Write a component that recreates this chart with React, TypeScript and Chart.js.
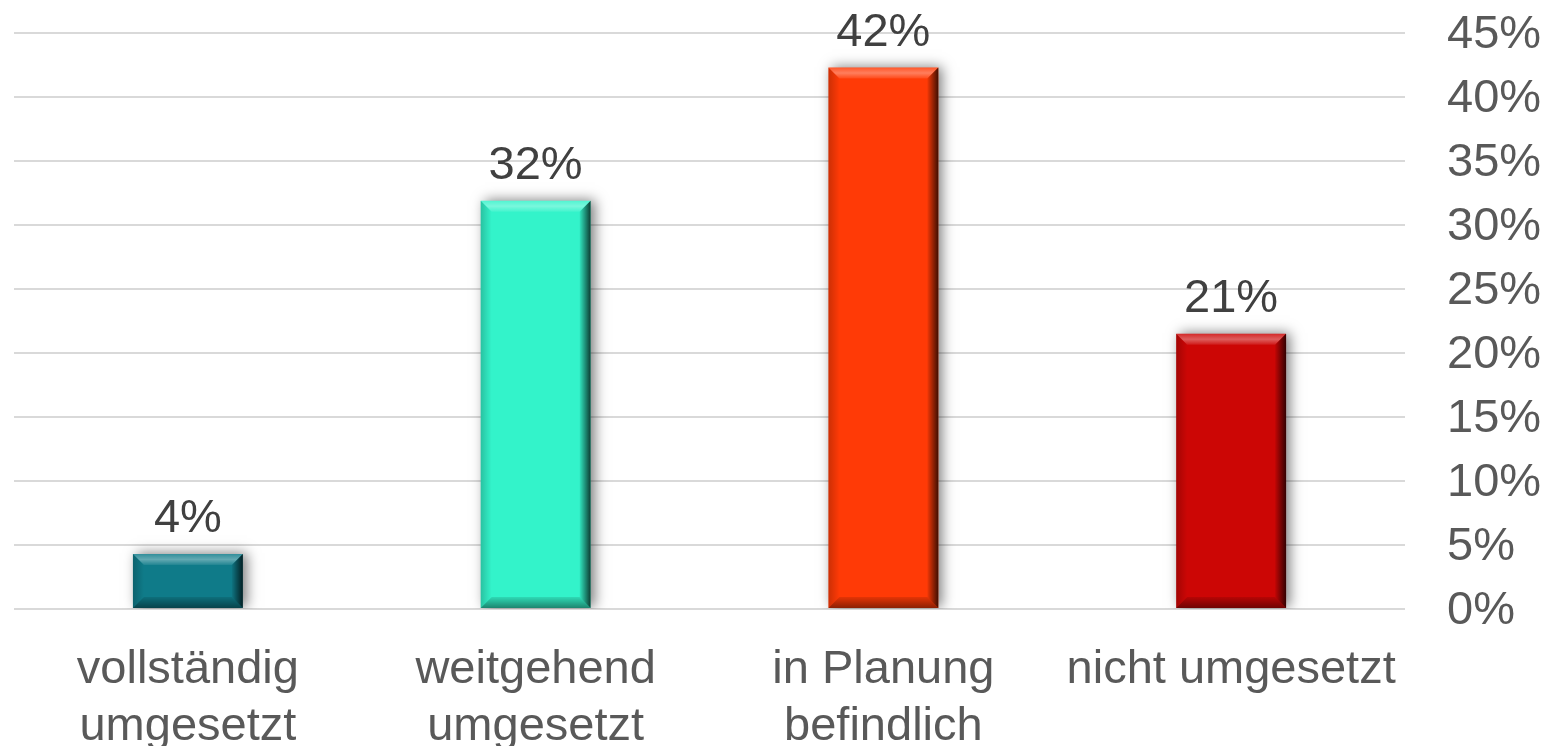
import React, { useEffect, useRef } from "react";
import { Chart, registerables } from "chart.js";

Chart.register(...registerables);

const categories: string[][] = [
  ["vollständig", "umgesetzt"],
  ["weitgehend", "umgesetzt"],
  ["in Planung", "befindlich"],
  ["nicht umgesetzt"],
];
const values: number[] = [4.3, 31.9, 42.3, 21.5];
const valueLabels: string[] = ["4%", "32%", "42%", "21%"];
const barColors: string[] = ["#0F7B89", "#33F3CA", "#FF3A06", "#CC0605"];
const yTicks = { min: 0, max: 45, step: 5 };

const FONT = '"Liberation Sans", Arial, sans-serif';

const shadowPlugin = {
  id: "barShadow",
  beforeDatasetsDraw(chart: any) {
    const ctx = chart.ctx;
    ctx.save();
    ctx.shadowColor = "rgba(0,0,0,0.5)";
    ctx.shadowBlur = 12;
    ctx.shadowOffsetX = 4;
    ctx.shadowOffsetY = -1;
  },
  afterDatasetsDraw(chart: any) {
    const ctx = chart.ctx;
    ctx.restore();
    const meta = chart.getDatasetMeta(0);
    meta.data.forEach((el: any, i: number) => {
      const { x, y, base, width } = el.getProps(["x", "y", "base", "width"], true);
      const L = x - width / 2;
      const R = x + width / 2;
      const T = Math.min(y, base);
      const B = Math.max(y, base);
      const b = Math.min(11, (B - T) / 2);
      const poly = (pts: number[][], fill: any) => {
        ctx.beginPath();
        ctx.moveTo(pts[0][0], pts[0][1]);
        for (let k = 1; k < pts.length; k++) ctx.lineTo(pts[k][0], pts[k][1]);
        ctx.closePath();
        ctx.fillStyle = fill;
        ctx.fill();
      };
      ctx.save();
      let g = ctx.createLinearGradient(0, T, 0, T + b);
      g.addColorStop(0, "rgba(255,255,255,0.15)");
      g.addColorStop(0.5, "rgba(255,255,255,0.35)");
      g.addColorStop(1, "rgba(255,255,255,0.08)");
      poly([[L, T], [R, T], [R - b, T + b], [L + b, T + b]], g);
      g = ctx.createLinearGradient(L, 0, L + b, 0);
      g.addColorStop(0, "rgba(0,0,0,0.2)");
      g.addColorStop(1, "rgba(0,0,0,0)");
      poly([[L, T], [L + b, T + b], [L + b, B - b], [L, B]], g);
      g = ctx.createLinearGradient(R - b, 0, R, 0);
      g.addColorStop(0, "rgba(0,0,0,0.05)");
      g.addColorStop(1, "rgba(0,0,0,0.75)");
      poly([[R, T], [R, B], [R - b, B - b], [R - b, T + b]], g);
      g = ctx.createLinearGradient(0, B - b, 0, B);
      g.addColorStop(0, "rgba(0,0,0,0.1)");
      g.addColorStop(1, "rgba(0,0,0,0.45)");
      poly([[L, B], [R, B], [R - b, B - b], [L + b, B - b]], g);
      ctx.restore();

      ctx.save();
      ctx.font = `47px ${FONT}`;
      ctx.fillStyle = "#404040";
      ctx.textAlign = "center";
      ctx.textBaseline = "alphabetic";
      ctx.fillText(valueLabels[i], x, T - 22);
      ctx.restore();
    });
  },
};

export default function App() {
  const ref = useRef<HTMLCanvasElement | null>(null);
  useEffect(() => {
    if (!ref.current) return;
    const chart = new Chart(ref.current, {
      type: "bar",
      data: {
        labels: categories,
        datasets: [
          {
            data: values,
            backgroundColor: barColors,
            borderWidth: 0,
            barPercentage: 0.316,
            categoryPercentage: 1,
          },
        ],
      },
      options: {
        animation: false,
        responsive: true,
        maintainAspectRatio: false,
        layout: { padding: { left: 14, top: 33, right: 0, bottom: 0 } },
        plugins: { legend: { display: false }, tooltip: { enabled: false } },
        scales: {
          x: {
            grid: { display: false, drawTicks: false },
            border: { display: false },
            ticks: {
              color: "#595959",
              font: { family: FONT, size: 47, lineHeight: 1.22 },
              padding: 32,
              maxRotation: 0,
              autoSkip: false,
            },
            afterFit: (s: any) => {
              s.height = 137;
              s.paddingLeft = 0;
              s.paddingRight = 0;
            },
          },
          y: {
            position: "right",
            min: yTicks.min,
            max: yTicks.max,
            grid: { color: "#d9d9d9", lineWidth: 2, drawTicks: false },
            border: { display: false },
            ticks: {
              stepSize: yTicks.step,
              color: "#595959",
              font: { family: FONT, size: 47 },
              padding: 42,
              labelOffset: 2,
              callback: (v: any) => v + "%",
            },
            afterFit: (s: any) => {
              s.width = 145;
              s.paddingTop = 0;
              s.paddingBottom = 0;
            },
          },
        },
      },
      plugins: [shadowPlugin],
    });
    return () => chart.destroy();
  }, []);
  return (
    <div style={{ position: "absolute", left: 0, top: 0, width: 1550, height: 746, background: "#fff" }}>
      <canvas ref={ref} />
    </div>
  );
}
